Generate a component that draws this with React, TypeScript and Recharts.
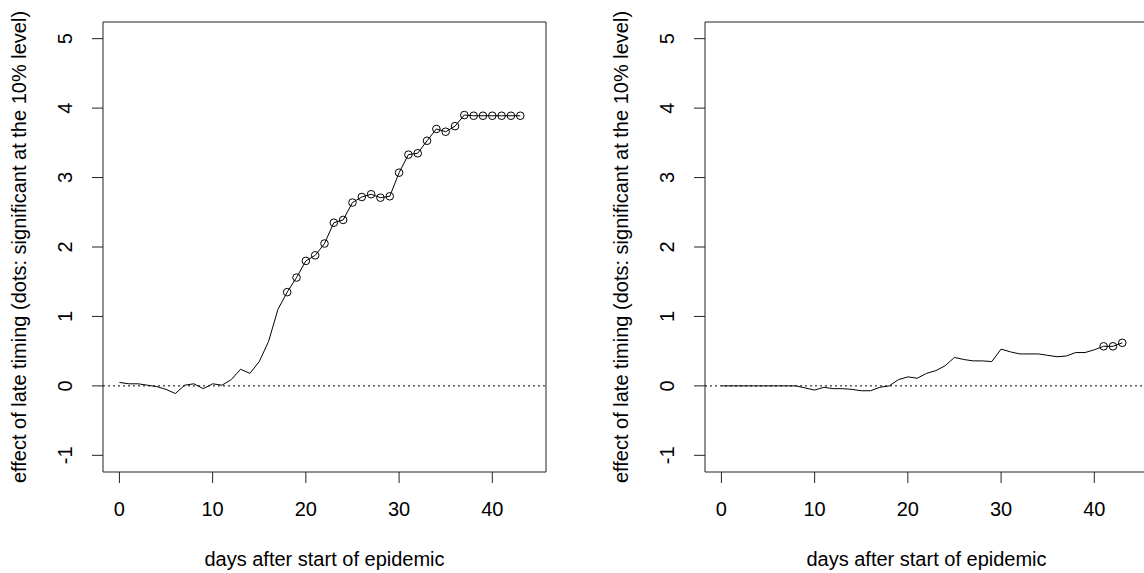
import { Label, Line, LineChart, ReferenceArea, ReferenceLine, XAxis, YAxis } from 'recharts'

// days 0..43
const days = [
  0, 1, 2, 3, 4, 5, 6, 7, 8, 9, 10, 11, 12, 13, 14, 15, 16, 17, 18, 19, 20, 21,
  22, 23, 24, 25, 26, 27, 28, 29, 30, 31, 32, 33, 34, 35, 36, 37, 38, 39, 40, 41, 42, 43,
]

const leftEffect = [
  0.05, 0.03, 0.03, 0.01, -0.01, -0.05, -0.11, 0.01, 0.03, -0.04, 0.03, 0.01, 0.09, 0.24,
  0.18, 0.35, 0.64, 1.1, 1.35, 1.56, 1.8, 1.88, 2.05, 2.35, 2.39, 2.64, 2.72, 2.76, 2.71,
  2.73, 3.07, 3.33, 3.35, 3.53, 3.7, 3.66, 3.74, 3.9, 3.89, 3.89, 3.89, 3.89, 3.89, 3.89,
]

const rightEffect = [
  0, 0, 0, 0, 0, 0, 0, 0, 0, -0.03, -0.06, -0.02, -0.04, -0.04, -0.05, -0.07, -0.07, -0.02,
  0.0, 0.09, 0.13, 0.11, 0.18, 0.22, 0.29, 0.41, 0.38, 0.36, 0.36, 0.35, 0.53, 0.49, 0.46,
  0.46, 0.46, 0.44, 0.42, 0.43, 0.48, 0.48, 0.52, 0.57, 0.57, 0.62,
]

// days where the effect is significant at the 10% level
const leftSignificant = [
  18, 19, 20, 21, 22, 23, 24, 25, 26, 27, 28, 29, 30, 31, 32, 33, 34, 35, 36, 37, 38, 39,
  40, 41, 42, 43,
]
const rightSignificant = [41, 42, 43]

const xTicks = [0, 10, 20, 30, 40]
const yTicks = [-1, 0, 1, 2, 3, 4, 5]
const xDomain: [number, number] = [-1.76, 45.76]
const yDomain: [number, number] = [-1.24, 5.24]

const FONT = '"Liberation Sans", Arial, Helvetica, sans-serif'
const xTitle = 'days after start of epidemic'
const yTitle = 'effect of late timing (dots: significant at the 10% level)'

// plot region inside each 602x573 panel
const PLOT_LEFT = 103
const PLOT_TOP = 22
const PLOT_W = 443
const PLOT_H = 450

// eslint-disable-next-line @typescript-eslint/no-explicit-any
function YTick(props: any) {
  const { x, y, payload } = props
  return (
    <text
      x={x}
      y={y}
      transform={`rotate(-90 ${x} ${y})`}
      textAnchor="middle"
      fontSize={20}
      fontFamily={FONT}
      fill="#000"
    >
      {payload.value}
    </text>
  )
}

function Panel({ values, significant, left }: { values: number[]; significant: number[]; left: number }) {
  const data = days.map((d, i) => ({ day: d, effect: values[i], sig: significant.includes(d) }))

  // eslint-disable-next-line @typescript-eslint/no-explicit-any
  const renderDot = (p: any) => {
    if (!p.payload.sig) return <g key={`d${p.index}`} />
    return (
      <circle key={`d${p.index}`} cx={p.cx} cy={p.cy} r={3.8} fill="none" stroke="#000" strokeWidth={1} />
    )
  }

  return (
    <div style={{ position: 'absolute', left, top: 0 }}>
      <LineChart
        width={602}
        height={573}
        data={data}
        margin={{ top: PLOT_TOP, right: 602 - PLOT_LEFT - PLOT_W, bottom: 0, left: 0 }}
      >
        <XAxis
          dataKey="day"
          type="number"
          domain={xDomain}
          ticks={xTicks}
          height={573 - PLOT_TOP - PLOT_H}
          axisLine={false}
          tickLine={{ stroke: '#222', strokeWidth: 1 }}
          tickSize={11}
          tickMargin={19}
          tick={{ fontSize: 20, fill: '#000', fontFamily: FONT }}
          allowDataOverflow
        >
          <Label
            content={() => (
              <text
                x={PLOT_LEFT + PLOT_W / 2}
                y={566}
                textAnchor="middle"
                fontSize={20}
                fontFamily={FONT}
                fill="#000"
              >
                {xTitle}
              </text>
            )}
          />
        </XAxis>
        <YAxis
          type="number"
          domain={yDomain}
          ticks={yTicks}
          width={PLOT_LEFT}
          axisLine={false}
          tickLine={{ stroke: '#222', strokeWidth: 1 }}
          tickSize={11}
          tickMargin={20}
          tick={<YTick />}
          allowDataOverflow
        >
          <Label
            content={() => (
              <text
                x={26}
                y={PLOT_TOP + PLOT_H / 2}
                transform={`rotate(-90 26 ${PLOT_TOP + PLOT_H / 2})`}
                textAnchor="middle"
                fontSize={20}
                fontFamily={FONT}
                fill="#000"
              >
                {yTitle}
              </text>
            )}
          />
        </YAxis>
        <ReferenceLine y={0} stroke="#000" strokeWidth={1} strokeDasharray="2 3" />
        <Line
          type="linear"
          dataKey="effect"
          stroke="#000"
          strokeWidth={1}
          dot={renderDot}
          activeDot={false}
          isAnimationActive={false}
        />
        <ReferenceArea
          x1={xDomain[0]}
          x2={xDomain[1]}
          y1={yDomain[0]}
          y2={yDomain[1]}
          fill="none"
          stroke="#222"
          strokeWidth={1}
          ifOverflow="visible"
        />
      </LineChart>
    </div>
  )
}

export default function App() {
  return (
    <div
      style={{
        position: 'absolute',
        left: 0,
        top: 0,
        width: 1144,
        height: 573,
        overflow: 'hidden',
        background: '#fff',
      }}
    >
      <Panel values={leftEffect} significant={leftSignificant} left={0} />
      <Panel values={rightEffect} significant={rightSignificant} left={602} />
    </div>
  )
}
